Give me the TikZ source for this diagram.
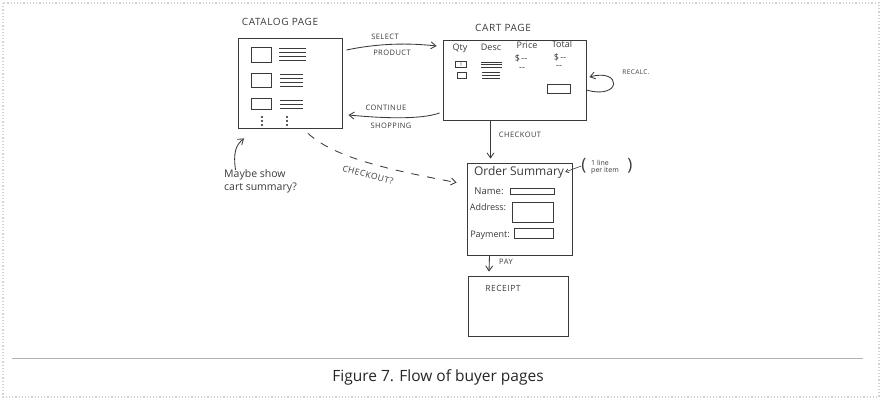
\documentclass[tikz,border=0pt]{standalone}
\usepackage{fontspec}
\setmainfont{Open Sans}
\newfontfamily\sk[LetterSpace=6]{Open Sans}
\newfontfamily\hw{Open Sans}
\usetikzlibrary{arrows.meta,calc}
\definecolor{ink}{HTML}{3A3A3A}
\tikzset{
  x=1pt,y=-1pt,
  ink/.style={draw=ink,line width=0.85pt},
  page/.style={ink,minimum width=#1,inner sep=0pt},
  lbl/.style={text=ink,font=\sk\fontsize{7.5}{9}\selectfont,inner sep=0pt},
  hand/.style={text=ink,font=\hw\fontsize{9}{11}\selectfont,inner sep=0pt},
  arr/.style={ink,-{Straight Barb[length=5pt,width=7pt]}},
  fld/.style={ink,line width=0.7pt},
}
\begin{document}
\begin{tikzpicture}
\useasboundingbox (0,0) rectangle (882,401);
\draw[gray!35,dotted,line width=1.2pt] (3,3) rectangle (879,397);
\draw[gray!60,line width=0.9pt] (12,358) -- (863,358);
\node[font=\fontsize{15.5}{18}\selectfont,text=black!85] (cap) at (438,377) {Figure 7. Flow of buyer pages};

% pages
\node[page=104pt,minimum height=90pt] (cat) at (290,83) {};
\node[page=143pt,minimum height=80pt] (cart) at (514.5,80) {};
\node[page=105pt,minimum height=92pt] (ord) at (519.5,209) {};
\node[page=100pt,minimum height=60pt] (rec) at (518,306) {};

% titles
\node[lbl,font=\sk\fontsize{10}{12}\selectfont] (catt) at (280,22) {CATALOG PAGE};
\node[lbl,font=\sk\fontsize{10}{12}\selectfont] (cartt) at (503,28) {CART PAGE};

% catalog internals
\foreach \y/\h in {47/62,73/87,98/109}{\draw[fld] (251,\y) rectangle (271,\h);}
\foreach \y in {48,52,56,60}{\draw[ink,line width=0.6pt] (279,\y) -- (306,\y);}
\foreach \y in {74,78,82,86}{\draw[ink,line width=0.6pt] (280,\y) -- (303,\y);}
\foreach \y in {100,104,108}{\draw[ink,line width=0.6pt] (280,\y) -- (303,\y);}
\foreach \y in {117,121,125}{\fill[ink] (262,\y) circle (0.6pt); \fill[ink] (287,\y) circle (0.6pt);}

% cart internals
\node[hand] (qty) at (460,48) {Qty};
\node[hand] (desc) at (491,47) {Desc};
\node[hand] (price) at (527,45) {Price};
\node[hand] (total) at (562,44) {Total};
\node[fld,minimum width=11pt,minimum height=6pt,inner sep=0pt,font=\fontsize{5}{5}\selectfont,text=ink] (q1) at (461,64.5) {1};
\node[fld,minimum width=9pt,minimum height=6pt,inner sep=0pt] (q2) at (461.5,75.5) {};
\foreach \y in {62,64.5,67}{\draw[ink,line width=0.6pt] (481,\y) -- (502,\y);}
\foreach \y in {72,75,78}{\draw[ink,line width=0.6pt] (482,\y) -- (500,\y);}
\node[hand] (p1) at (521,58) {\$\,--};
\node[hand] (t1) at (560,57) {\$\,--};
\node[hand] (p2) at (522,69) {--};
\node[hand] (t2) at (559,67) {--};
\draw[fld] (547,84) rectangle (570,93);

% recalc loop
\coordinate (rs) at ($(cart.east)+(0,10)$);
\coordinate (re) at ($(cart.east)+(3,-3)$);
\draw[arr] (rs) .. controls (622,100) and (622,68) .. (re);
\node[lbl,font=\sk\fontsize{6.5}{8}\selectfont] (recalc) at (636,72) {RECALC.};

% select / continue
\draw[arr] ([xshift=4pt,yshift=33pt]cat.east) .. controls (380,43) and (410,43) .. ([xshift=-6pt,yshift=34pt]cart.west);
\node[lbl] (sel) at (385,37) {SELECT};
\node[lbl] (prod) at (392,53) {PRODUCT};
\draw[arr] ([xshift=-3pt,yshift=-33pt]cart.west) .. controls (420,120) and (380,118) .. ([xshift=6pt,yshift=-32pt]cat.east);
\node[lbl] (cont) at (386,108) {CONTINUE};
\node[lbl] (shop) at (391,126) {SHOPPING};

% checkout
\draw[arr] ([xshift=-24pt]cart.south) -- ([xshift=-29pt,yshift=4pt]ord.north);
\node[lbl] (chk) at (520,135) {CHECKOUT};

% order summary
\node[hand,font=\hw\fontsize{12}{14}\selectfont] (os) at (519,172) {Order Summary};
\node[hand,font=\hw\fontsize{7}{7.5}\selectfont,align=left] (note) at (605,167) {1 line\\per item};
\node[text=ink,font=\fontsize{17}{17}\selectfont,inner sep=0pt] (lp) at (584,166) {(};
\node[text=ink,font=\fontsize{17}{17}\selectfont,inner sep=0pt] (rp) at (630,166) {)};
\draw[arr,line width=0.6pt,-{Straight Barb[length=3pt,width=4pt]}] (lp.west) -- ([xshift=1pt]os.east);
\node[hand,font=\hw\fontsize{9.5}{11}\selectfont] (nm) at (489,191) {Name:};
\node[hand,font=\hw\fontsize{9}{11}\selectfont] (ad) at (488,207) {Address:};
\node[hand,font=\hw\fontsize{9}{11}\selectfont] (pm) at (490,235) {Payment:};
\draw[fld] (510,188) rectangle (554,194.5);
\draw[fld] (512,202) rectangle (553,222);
\draw[fld] (514,228) rectangle (553,238.5);

% pay
\draw[arr] ([xshift=-30pt]ord.south) -- ([xshift=-29pt,yshift=4pt]rec.north);
\node[lbl] (pay) at (506,262) {PAY};
\node[lbl,font=\sk\fontsize{8.5}{10}\selectfont] (rect) at (503,288) {RECEIPT};

% checkout?
\draw[arr,dash pattern=on 8pt off 8pt] ([xshift=18pt,yshift=-5pt]cat.south) .. controls (335,158) and (390,170) .. ([xshift=-10pt,yshift=-20pt]ord.north west);
\node[lbl,font=\sk\fontsize{8.5}{10}\selectfont,rotate=-15] (chq) at (368,175) {CHECKOUT?};

% maybe show
\node[hand,font=\hw\fontsize{10.5}{13}\selectfont,align=left,anchor=west] (maybe) at (224,181) {Maybe show\\cart summary?};
\draw[arr] ([xshift=-25pt,yshift=-1pt]maybe.north) .. controls (233,152) and (236,145) .. ([xshift=-46pt,yshift=-10pt]cat.south);
\end{tikzpicture}
\end{document}
